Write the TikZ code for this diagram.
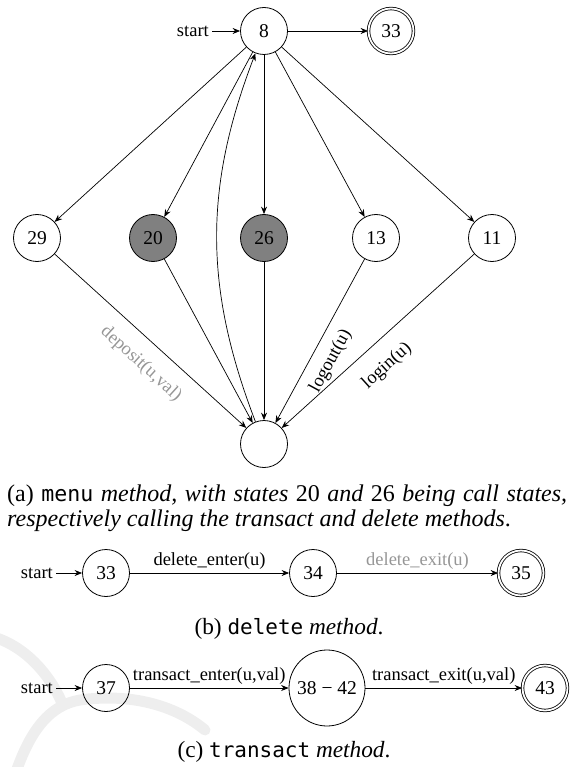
\documentclass[tikz,border=0pt]{standalone}
\usepackage{fontspec}
\setmainfont{Liberation Serif}
\setmonofont[Scale=0.9]{DejaVu Sans Mono}
\usetikzlibrary{arrows.meta}
\definecolor{callgray}{RGB}{128,128,128}
\definecolor{lightlbl}{RGB}{150,150,150}
\definecolor{wmark}{RGB}{238,238,238}
\newcommand{\gp}{\hskip 0pt plus 1fil minus 3pt}
\begin{document}
\begin{tikzpicture}[x=1pt,y=1pt,
  st/.style={circle,draw,line width=0.8pt,minimum size=47pt,inner sep=0pt,font=\fontsize{19.5}{22}\selectfont},
  acc/.style={st,double,double distance=1.8pt,minimum size=45pt},
  callst/.style={st,fill=callgray},
  big/.style={st,minimum size=76pt},
  tr/.style={-{Stealth[length=7.5pt,width=6pt]},line width=0.7pt},
  lbl/.style={font=\fontsize{18.5}{20}\selectfont},
  startlbl/.style={lbl,anchor=east,inner sep=3pt},
  faint/.style={text=lightlbl},
  captxt/.style={font=\fontsize{23.3}{25}\selectfont,inner sep=0pt},
  capline/.style={font=\fontsize{24}{25}\selectfont,inner sep=0pt,anchor=base west}]
\useasboundingbox (0,0) rectangle (574,-767);
% faint watermark
\begin{scope}[wmark,line width=11pt,line cap=round]
\draw (-10,-636) .. controls (25,-645) and (50,-675) .. (62,-703);
\draw (15,-775) .. controls (30,-730) and (50,-705) .. (80,-700)
      .. controls (130,-693) and (175,-705) .. (205,-730);
\end{scope}
% (a) menu
\node[st] (n8) at (264,-31) {8};
\node[acc] (n33a) at (391,-31) {33};
\node[startlbl] (s1) at (212,-31) {start};
\node[st] (n29) at (37,-238) {29};
\node[callst] (n20) at (153,-238) {20};
\node[callst] (n26) at (264,-238) {26};
\node[st] (n13) at (376,-238) {13};
\node[st] (n11) at (492,-238) {11};
\node[st] (nb) at (264,-444) {};
\draw[tr] (s1) -- (n8);
\draw[tr] (n8) -- (n33a);
\draw[tr] (n8) -- (n29);
\draw[tr] (n8) -- (n20);
\draw[tr] (n8) -- (n26);
\draw[tr] (n8) -- (n13);
\draw[tr] (n8) -- (n11);
\draw[tr] (nb) to[bend left=21] (n8);
\draw[tr] (n29) -- (nb);
\draw[tr] (n20) -- (nb);
\draw[tr] (n26) -- (nb);
\draw[tr] (n13) -- (nb);
\draw[tr] (n11) -- (nb);
\node[lbl,faint,rotate=-42.2] (ldep) at (141,-364) {deposit(u,val)};
\node[lbl,rotate=61.5] (llogout) at (331,-361) {logout(u)};
\node[lbl,rotate=42.1] (llogin) at (387,-366) {login(u)};
\node[capline] (capa1) at (7,-501)
  {\hbox to 560pt{(a)\gp\texttt{menu}\gp\textit{method,}\gp\textit{with}\gp\textit{states}\gp 20\gp\textit{and}\gp 26\gp\textit{being}\gp\textit{call}\gp\textit{states,}}};
\node[capline] (capa2) at (7,-526)
  {\textit{respectively calling the transact and delete methods}.};
% (b) delete
\node[st] (b33) at (106,-573) {33};
\node[st] (b34) at (313,-573) {34};
\node[acc] (b35) at (521,-573) {35};
\node[startlbl] (s2) at (56,-573) {start};
\draw[tr] (s2) -- (b33);
\draw[tr] (b33) -- node[lbl,above] {delete\_enter(u)} (b34);
\draw[tr] (b34) -- node[lbl,faint,above] {delete\_exit(u)} (b35);
\node[captxt] (capb) at (289,-629) {(b) \texttt{delete} \textit{method}.};
% (c) transact
\node[st] (c37) at (106,-688) {37};
\node[big] (c38) at (327,-688) {38 − 42};
\node[acc] (c43) at (545,-688) {43};
\node[startlbl] (s3) at (56,-688) {start};
\draw[tr] (s3) -- (c37);
\draw[tr] (c37) -- node[lbl,above] {transact\_enter(u,val)} (c38);
\draw[tr] (c38) -- node[lbl,above] {transact\_exit(u,val)} (c43);
\node[captxt] (capc) at (284,-752) {(c) \texttt{transact} \textit{method}.};
\end{tikzpicture}
\end{document}
